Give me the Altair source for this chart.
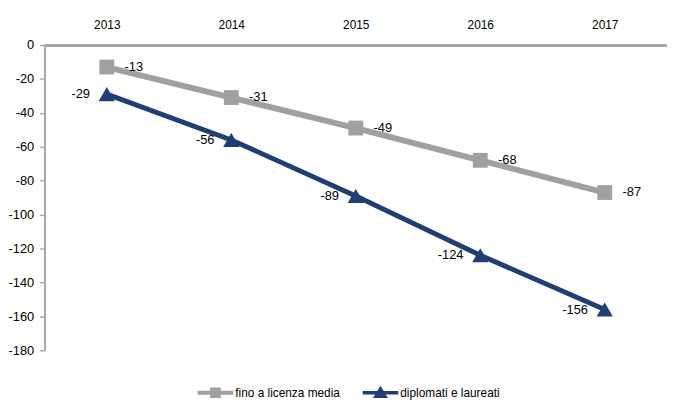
import altair as alt
import pandas as pd

years = ["2013", "2014", "2015", "2016", "2017"]
series_names = ["fino a licenza media", "diplomati e laureati"]
licenza_media = [-13, -31, -49, -68, -87]
diplomati = [-29, -56, -89, -124, -156]
y_ticks = [0, -20, -40, -60, -80, -100, -120, -140, -160, -180]
colors = ["#A0A0A0", "#1F3F74"]

rows = []
for yr, a, b in zip(years, licenza_media, diplomati):
    rows.append({"year": yr, "series": series_names[0], "value": a})
    rows.append({"year": yr, "series": series_names[1], "value": b})
df = pd.DataFrame(rows)

FONT = "Liberation Sans, Arial, sans-serif"
AXIS_GRAY = "#A6A6A6"
TXT = "#000000"

x_enc = alt.X(
    "year:O",
    sort=years,
    scale=alt.Scale(padding=0.5),
    axis=alt.Axis(
        orient="top", title=None, labelAngle=0, ticks=False,
        domainColor=AXIS_GRAY, domainWidth=3, labelPadding=14,
        labelFont=FONT, labelFontSize=12, labelColor=TXT,
    ),
)
y_enc = alt.Y(
    "value:Q",
    scale=alt.Scale(domain=[-180, 0], nice=False, zero=False),
    axis=alt.Axis(
        title=None, values=y_ticks, grid=False,
        domainColor=AXIS_GRAY, domainWidth=2, tickColor=AXIS_GRAY,
        tickSize=5, tickWidth=1.5, labelPadding=6,
        labelFont=FONT, labelFontSize=13, labelColor=TXT,
        labelExpr="'' + datum.value",
    ),
)
color_enc = alt.Color(
    "series:N", scale=alt.Scale(domain=series_names, range=colors), legend=None
)

base = alt.Chart(df).transform_calculate(label="'' + datum.value")

lines = base.mark_line().encode(
    x=x_enc, y=y_enc, color=color_enc,
    strokeWidth=alt.StrokeWidth(
        "series:N", scale=alt.Scale(domain=series_names, range=[6, 5]), legend=None
    ),
)

points = base.mark_point(filled=True, opacity=1).encode(
    x=x_enc, y=y_enc, color=color_enc,
    shape=alt.Shape(
        "series:N", scale=alt.Scale(domain=series_names, range=["square", "triangle-up"]),
        legend=None,
    ),
    size=alt.Size(
        "series:N", scale=alt.Scale(domain=series_names, range=[225, 270]), legend=None
    ),
)

labels_gray = base.transform_filter(
    alt.datum.series == series_names[0]
).mark_text(
    align="left", baseline="middle", dx=18, font=FONT, fontSize=13, color=TXT
).encode(x=x_enc, y=y_enc, text="label:N")

labels_blue = base.transform_filter(
    alt.datum.series == series_names[1]
).mark_text(
    align="right", baseline="middle", dx=-17, font=FONT, fontSize=13, color=TXT
).encode(x=x_enc, y=y_enc, text="label:N")

legend_paths = [
    "M-1,-0.11H1V0.11H-1Z M-0.3,-0.3H0.3V0.3H-0.3Z",
    "M-1,-0.1H1V0.1H-1Z M0,-0.4L0.42,0.3H-0.42Z",
]

legend_props = dict(
    title=None, orient="none", legendX=155, legendY=334,
    direction="horizontal", symbolSize=1296, symbolOpacity=1,
    symbolStrokeWidth=0, labelFont=FONT, labelFontSize=12,
    labelColor=TXT, columnPadding=22, labelOffset=2,
)

legend_layer = base.mark_point(filled=True, opacity=0).encode(
    x=x_enc, y=y_enc,
    color=alt.Color(
        "series:N",
        scale=alt.Scale(domain=series_names, range=colors),
        legend=alt.Legend(**legend_props),
    ),
    shape=alt.Shape(
        "series:N",
        scale=alt.Scale(domain=series_names, range=legend_paths),
        legend=alt.Legend(**legend_props),
    ),
)

chart = alt.layer(
    lines, points, labels_gray, labels_blue, legend_layer
).resolve_scale(
    shape="independent", size="independent", color="independent"
).properties(
    width=630, height=309,
    autosize=alt.AutoSizeParams(type="none"),
    padding={"left": 37, "top": 35, "right": 0, "bottom": 54},
    background="white",
).configure_view(stroke=None)

chart.save("out.html", embed_options={"renderer": "svg", "actions": False})
